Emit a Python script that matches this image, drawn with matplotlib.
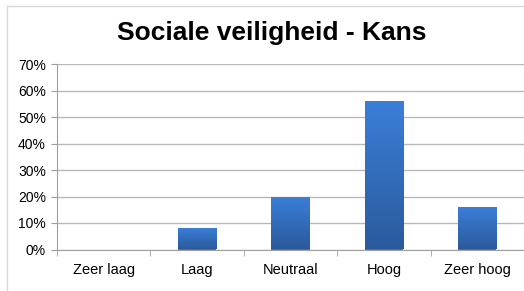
import numpy as np
import matplotlib.pyplot as plt
from matplotlib.colors import LinearSegmentedColormap
from matplotlib.lines import Line2D

categories = ['Zeer laag', 'Laag', 'Neutraal', 'Hoog', 'Zeer hoog']
values = [0, 8, 20, 56, 16]
y_ticks = [0, 10, 20, 30, 40, 50, 60, 70]

plt.rcParams['font.family'] = ['Liberation Sans', 'DejaVu Sans']

fig = plt.figure(figsize=(5.24, 2.91), dpi=100)
ax = fig.add_axes([57 / 524, 41.5 / 291, 1 - 57 / 524, 185.5 / 291])

x = np.arange(len(categories))
bars = ax.bar(x, values, width=0.41, color='#3370c0', zorder=2)

# verloop in de staven (licht boven, donker onder)
cmap = LinearSegmentedColormap.from_list('blauw', ['#2b5a9c', '#3b7fd9'])
grad = np.linspace(0, 1, 256).reshape(-1, 1)
for b in bars:
    if b.get_height() <= 0:
        continue
    x0, w, h = b.get_x(), b.get_width(), b.get_height()
    im = ax.imshow(grad, cmap=cmap, aspect='auto', origin='lower',
                   extent=[x0, x0 + w, 0, h], zorder=3)
    im.set_clip_path(b)

ax.set_xlim(-0.5, len(categories) - 0.5)
ax.set_ylim(0, 70)
ax.set_yticks(y_ticks)
ax.set_yticklabels([f'{v}%' for v in y_ticks], fontsize=10)
ax.set_xticks(x)
ax.set_xticklabels(categories, fontsize=10.5)
ax.set_xticks(np.arange(len(categories) + 1) - 0.5, minor=True)
ax.tick_params(axis='x', which='major', length=0, pad=10)
ax.tick_params(axis='x', which='minor', length=4, color='#a0a0a0')
ax.tick_params(axis='y', length=4, color='#a0a0a0', pad=4)

ax.grid(axis='y', color='#b8b8b8', linewidth=1.0, zorder=1)
for s in ['top', 'right']:
    ax.spines[s].set_visible(False)
for s in ['left', 'bottom']:
    ax.spines[s].set_color('#a0a0a0')

fig.text(0.518, 1 - 33 / 291, 'Sociale veiligheid - Kans', ha='center', va='center',
         fontsize=19, fontweight='bold')

# rand van de grafiek
fig.add_artist(Line2D([7 / 524, 7 / 524], [0, 1 - 6 / 291], color='#d8d8d8', lw=1))
fig.add_artist(Line2D([7 / 524, 1], [1 - 6 / 291, 1 - 6 / 291], color='#d8d8d8', lw=1))

fig.savefig('out.png', dpi=100)
